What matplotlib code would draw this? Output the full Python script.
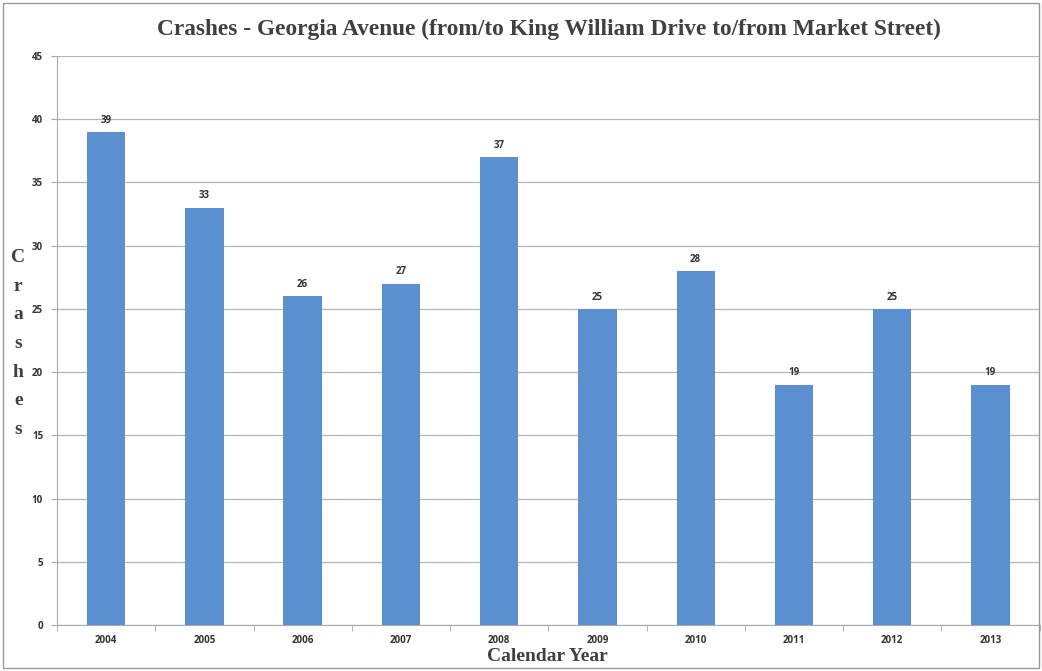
import matplotlib.pyplot as plt
import numpy as np
from matplotlib.patches import Rectangle

years = ['2004', '2005', '2006', '2007', '2008', '2009', '2010', '2011', '2012', '2013']
crashes = [39, 33, 26, 27, 37, 25, 28, 19, 25, 19]
y_ticks = [0, 5, 10, 15, 20, 25, 30, 35, 40, 45]

fig = plt.figure(figsize=(10.42, 6.71), dpi=100)
ax = fig.add_axes([0.0547, 0.0686, 0.943, 0.848])

x = np.arange(len(years))
bars = ax.bar(x, crashes, width=0.39, color='#5b8fd0', zorder=3)
for xi, v in zip(x, crashes):
    ax.text(xi, v + 0.5, str(v), ha='center', va='bottom', fontsize=7,
            fontweight='bold', color='#333333', family='Open Sans')

ax.set_xlim(-0.5, len(years) - 0.5)
ax.set_ylim(0, 45)
ax.set_yticks(y_ticks)
ax.set_yticklabels([str(t) for t in y_ticks], fontsize=7, fontweight='bold',
                   color='#333333', family='Open Sans')
ax.set_xticks(x)
ax.set_xticklabels(years, fontsize=7, fontweight='bold', color='#333333', family='Open Sans')
ax.set_xticks(np.arange(-0.5, len(years), 1), minor=True)
ax.tick_params(axis='x', which='major', length=0, pad=7)
ax.tick_params(axis='x', which='minor', length=4, color='#aaaaaa', direction='out')
ax.tick_params(axis='y', length=4, color='#aaaaaa', pad=6)
ax.grid(axis='y', color='#b5b5b5', linewidth=0.9, zorder=0)

for side in ['top', 'right']:
    ax.spines[side].set_visible(False)
ax.spines['left'].set_color('#aaaaaa')
ax.spines['bottom'].set_color('#aaaaaa')

fig.text(0.527, 0.956, 'Crashes - Georgia Avenue (from/to King William Drive to/from Market Street)',
         ha='center', va='center', fontsize=16.8, fontweight='bold', color='#404040',
         family='Liberation Serif')
fig.text(0.525, 0.021, 'Calendar Year', ha='center', va='center', fontsize=14,
         fontweight='bold', color='#404040', family='Liberation Serif')
fig.text(0.0175, 0.488, 'C\nr\na\ns\nh\ne\ns', ha='center', va='center', fontsize=14,
         fontweight='bold', color='#404040', family='Liberation Serif', linespacing=1.9)

fig.patches.append(Rectangle((0.003, 0.004), 0.994, 0.992, transform=fig.transFigure,
                             fill=False, edgecolor='#999999', linewidth=1.0))

fig.savefig('out.png', dpi=100)
